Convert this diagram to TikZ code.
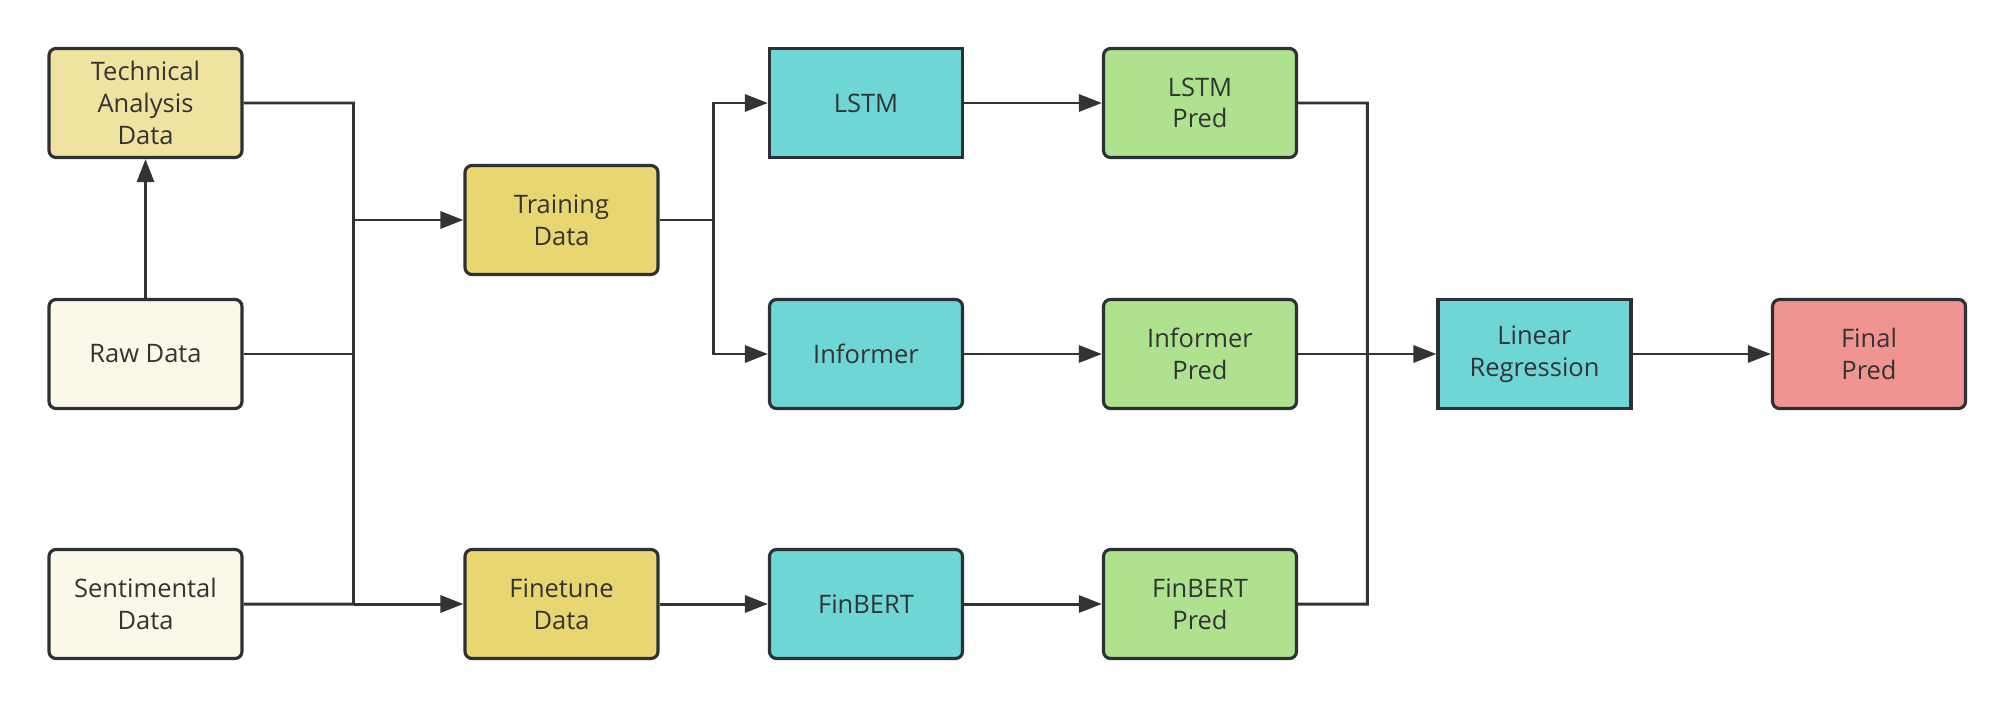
\documentclass[tikz,border=0pt]{standalone}
\usepackage{fontspec}
\setmainfont{Open Sans}
\usepackage{xcolor}
\definecolor{inkgray}{RGB}{51, 51, 51}
\definecolor{edgegray}{RGB}{45, 48, 52}
\definecolor{techfill}{RGB}{240, 227, 160}
\definecolor{rawfill}{RGB}{252, 248, 233}
\definecolor{trainfill}{RGB}{232, 214, 112}
\definecolor{modelfill}{RGB}{111, 214, 214}
\definecolor{predfill}{RGB}{175, 226, 142}
\definecolor{finalfill}{RGB}{240, 148, 146}
\usetikzlibrary{arrows.meta,positioning,calc}

\begin{document}
\begin{tikzpicture}[every node/.style={font=\fontsize{14.5}{18}\selectfont, text=inkgray}]
\tikzset{
    box/.style={draw=edgegray, line width=1.8pt, rounded corners=1.4mm,
        minimum width=3.86cm, minimum height=2.18cm, align=center, inner sep=2pt},
    sharpbox/.style={box, sharp corners},
    wire/.style={draw=inkgray, line width=1.7pt},
    arrowline/.style={wire, -{Triangle[length=4.6mm, width=3.4mm]}}
}
\useasboundingbox (0,0) rectangle (40.3,14.16);

% inputs
\node[box, fill=techfill] (tech) at (2.91, 12.10) {Technical\\Analysis\\Data};
\node[box, fill=rawfill] (raw) at (2.91, 7.08) {Raw Data};
\node[box, fill=rawfill] (sent) at (2.91, 2.08) {Sentimental\\Data};

% datasets
\node[box, fill=trainfill] (train) at (11.23, 9.76) {Training\\Data};
\node[box, fill=trainfill] (fine) at (11.23, 2.08) {Finetune\\Data};

% models
\node[sharpbox, fill=modelfill] (lstm) at (17.32, 12.10) {LSTM};
\node[box, fill=modelfill] (inf) at (17.32, 7.08) {Informer};
\node[box, fill=modelfill] (finbert) at (17.32, 2.08) {FinBERT};

% predictions
\node[box, fill=predfill] (lpred) at (24.00, 12.10) {LSTM\\Pred};
\node[box, fill=predfill] (ipred) at (24.00, 7.08) {Informer\\Pred};
\node[box, fill=predfill] (fpred) at (24.00, 2.08) {FinBERT\\Pred};

\node[sharpbox, fill=modelfill] (lin) at (30.69, 7.08) {Linear\\Regression};
\node[box, fill=finalfill] (final) at (37.38, 7.08) {Final\\Pred};

% junctions
\coordinate (jl) at ($(tech.east)!0.5!(tech.east -| train.west)$);
\coordinate (jm) at ($(train.east)!0.5!(train.east -| lstm.west)$);
\coordinate (jr) at ($(lpred.east)!0.5!(lpred.east -| lin.west)$);

\draw[arrowline] (raw) -- (tech);
\draw[wire] (tech.east) -- (jl) -- (jl |- sent.east) -- (sent.east);
\draw[wire] (raw.east) -- (raw.east -| jl);
\draw[arrowline] (jl |- train.west) -- (train.west);
\draw[arrowline] (jl |- fine.west) -- (fine.west);

\draw[wire] (train.east) -- (jm);
\draw[arrowline] (jm) |- (lstm.west);
\draw[arrowline] (jm) |- (inf.west);
\draw[arrowline] (fine) -- (finbert);

\draw[arrowline] (lstm) -- (lpred);
\draw[arrowline] (inf) -- (ipred);
\draw[arrowline] (finbert) -- (fpred);

\draw[wire] (lpred.east) -- (jr) |- (fpred.east);
\draw[arrowline] (ipred.east) -- (lin.west);
\draw[arrowline] (lin) -- (final);

\end{tikzpicture}
\end{document}
